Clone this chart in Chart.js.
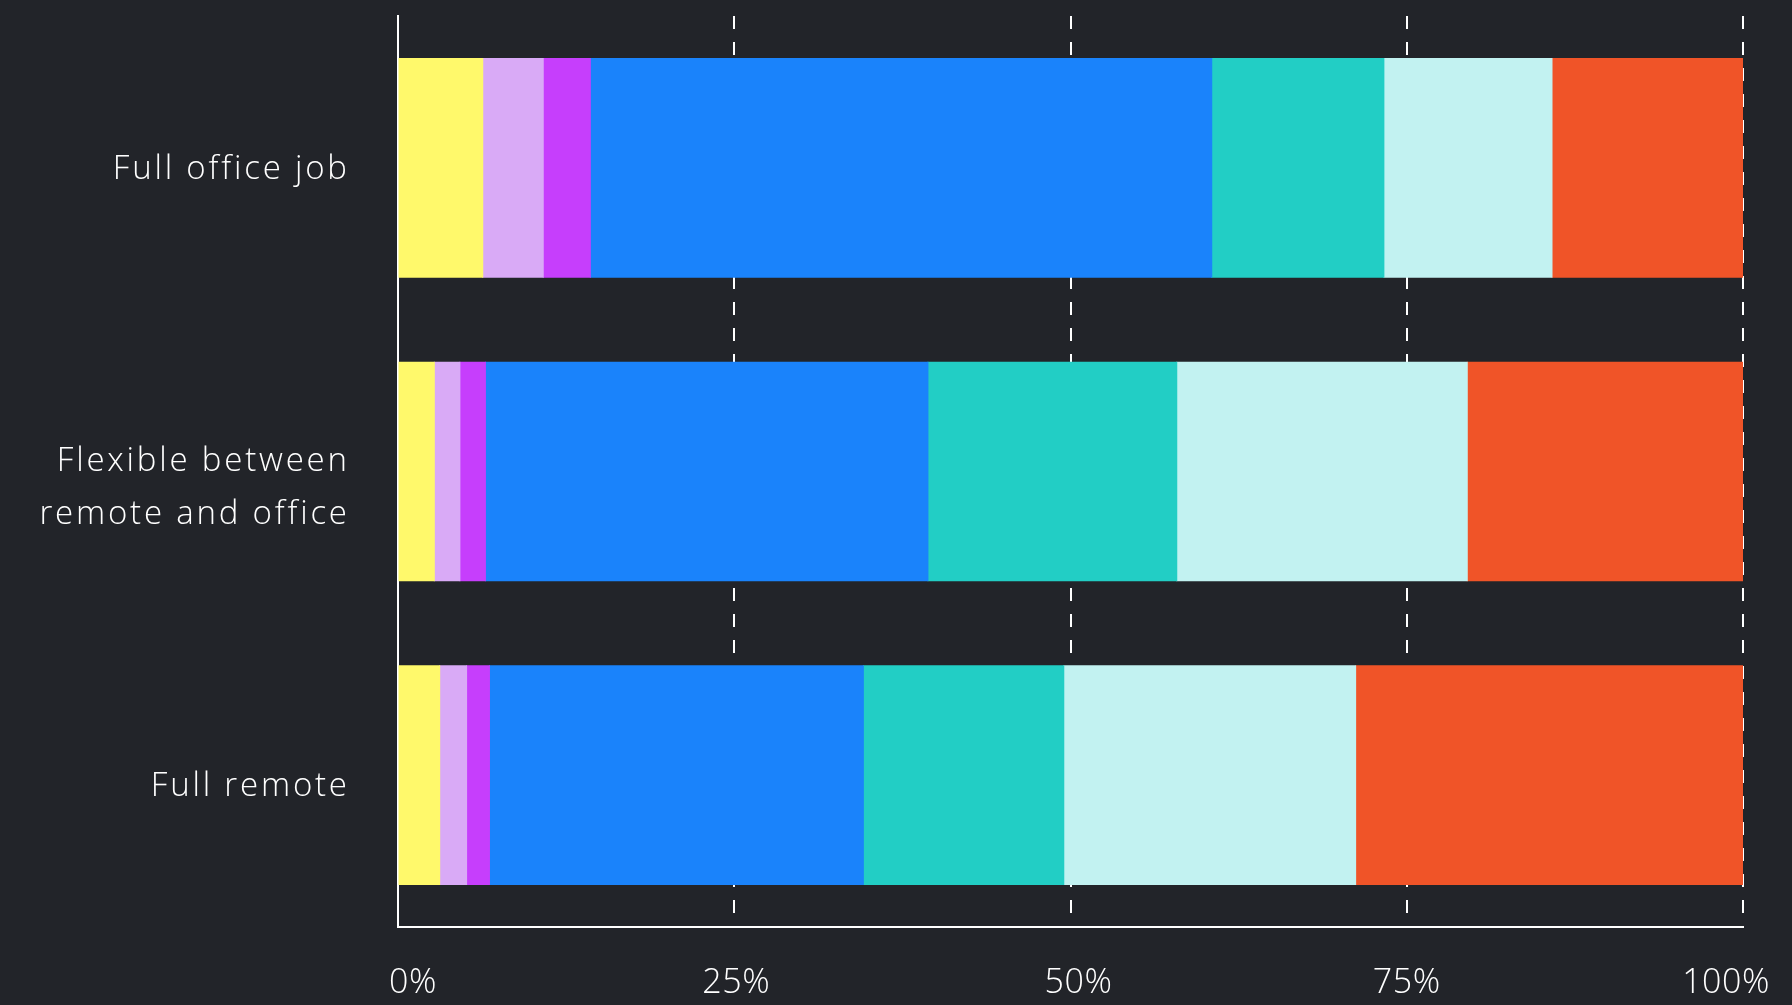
<!DOCTYPE html>
<html>
<head>
<meta charset="utf-8">
<script src="https://cdn.jsdelivr.net/npm/chart.js@4/dist/chart.umd.min.js"></script>
<style>
  html, body { margin: 0; padding: 0; background: #222429; }
  #wrap { width: 1792px; height: 1005px; }
</style>
</head>
<body>
<div id="wrap"><canvas id="c" width="1792" height="1005"></canvas></div>
<script>
// ---- data ----
const categories = ['Full office job', ['Flexible between', 'remote and office'], 'Full remote'];
const seriesYellow   = [6.3, 2.7, 3.1];
const seriesLavender = [4.5, 1.9, 2.0];
const seriesPurple   = [3.5, 1.9, 1.7];
const seriesBlue     = [46.2, 32.9, 27.8];
const seriesTeal     = [12.8, 18.5, 14.9];
const seriesCyan     = [12.5, 21.6, 21.7];
const seriesRed      = [14.2, 20.5, 28.8];
const tickValues = [0, 25, 50, 75, 100];
const tickLabels = ['0%', '25%', '50%', '75%', '100%'];

// ---- styles ----
const colors = ['#FFF96B', '#D9AAF6', '#C63EFC', '#1A83FB', '#22CEC5', '#C2F2F1', '#F05428'];
const xLabelNudge = [15, 2, 8, 0, -17];
const yLabelNudge = [-1, 14, 9];
const FONT = '"Open Sans", "Noto Sans", sans-serif';
const CAT_SPACING = 2.8;

const seriesList = [seriesYellow, seriesLavender, seriesPurple, seriesBlue, seriesTeal, seriesCyan, seriesRed];
const datasets = seriesList.map((d, i) => ({
  label: 'Series ' + (i + 1),
  data: d,
  backgroundColor: colors[i],
  borderWidth: 0,
  inflateAmount: 0.5,
  categoryPercentage: 1.0,
  barPercentage: 0.72
}));

const labelPlugin = {
  id: 'labels',
  afterDraw(chart) {
    const ctx = chart.ctx;
    const xs = chart.scales.x, ys = chart.scales.y;
    const area = chart.chartArea;
    ctx.save();
    ctx.fillStyle = '#ffffff';
    ctx.textBaseline = 'alphabetic';
    // x tick labels
    ctx.font = '300 34px ' + FONT;
    ctx.textAlign = 'center';
    try { ctx.letterSpacing = '0.5px'; } catch (e) {}
    tickValues.forEach((v, i) => {
      ctx.fillText(tickLabels[i], xs.getPixelForValue(v) + xLabelNudge[i], area.bottom + 66);
    });
    // y category labels
    ctx.font = '300 33px ' + FONT;
    ctx.textAlign = 'right';
    try { ctx.letterSpacing = CAT_SPACING + 'px'; } catch (e) {}
    categories.forEach((c, i) => {
      const lines = Array.isArray(c) ? c : [c];
      const yc = ys.getPixelForValue(i) + yLabelNudge[i];
      lines.forEach((ln, j) => {
        const y = yc + (j - (lines.length - 1) / 2) * 53.5;
        ctx.fillText(ln, area.left - 51 + CAT_SPACING, y + 12);
      });
    });
    ctx.restore();
  }
};

new Chart(document.getElementById('c'), {
  type: 'bar',
  data: { labels: categories, datasets },
  options: {
    indexAxis: 'y',
    responsive: false,
    animation: false,
    devicePixelRatio: 1,
    layout: { padding: { top: 16, right: 49, left: 0, bottom: 0 } },
    plugins: { legend: { display: false }, tooltip: { enabled: false } },
    scales: {
      x: {
        stacked: true,
        min: 0, max: 100,
        afterBuildTicks(scale) { scale.ticks = tickValues.map(v => ({ value: v })); },
        afterFit(scale) { scale.height = 78; },
        ticks: { display: false },
        grid: { display: true, color: '#ffffff', lineWidth: 2, drawTicks: false, drawOnChartArea: true },
        border: { display: true, color: '#ffffff', width: 2, dash: [13, 13] }
      },
      y: {
        stacked: true,
        afterFit(scale) { scale.width = 398; },
        ticks: { display: false },
        grid: { display: false, drawTicks: false },
        border: { display: true, color: '#ffffff', width: 2 }
      }
    }
  },
  plugins: [labelPlugin]
});
</script>
</body>
</html>
